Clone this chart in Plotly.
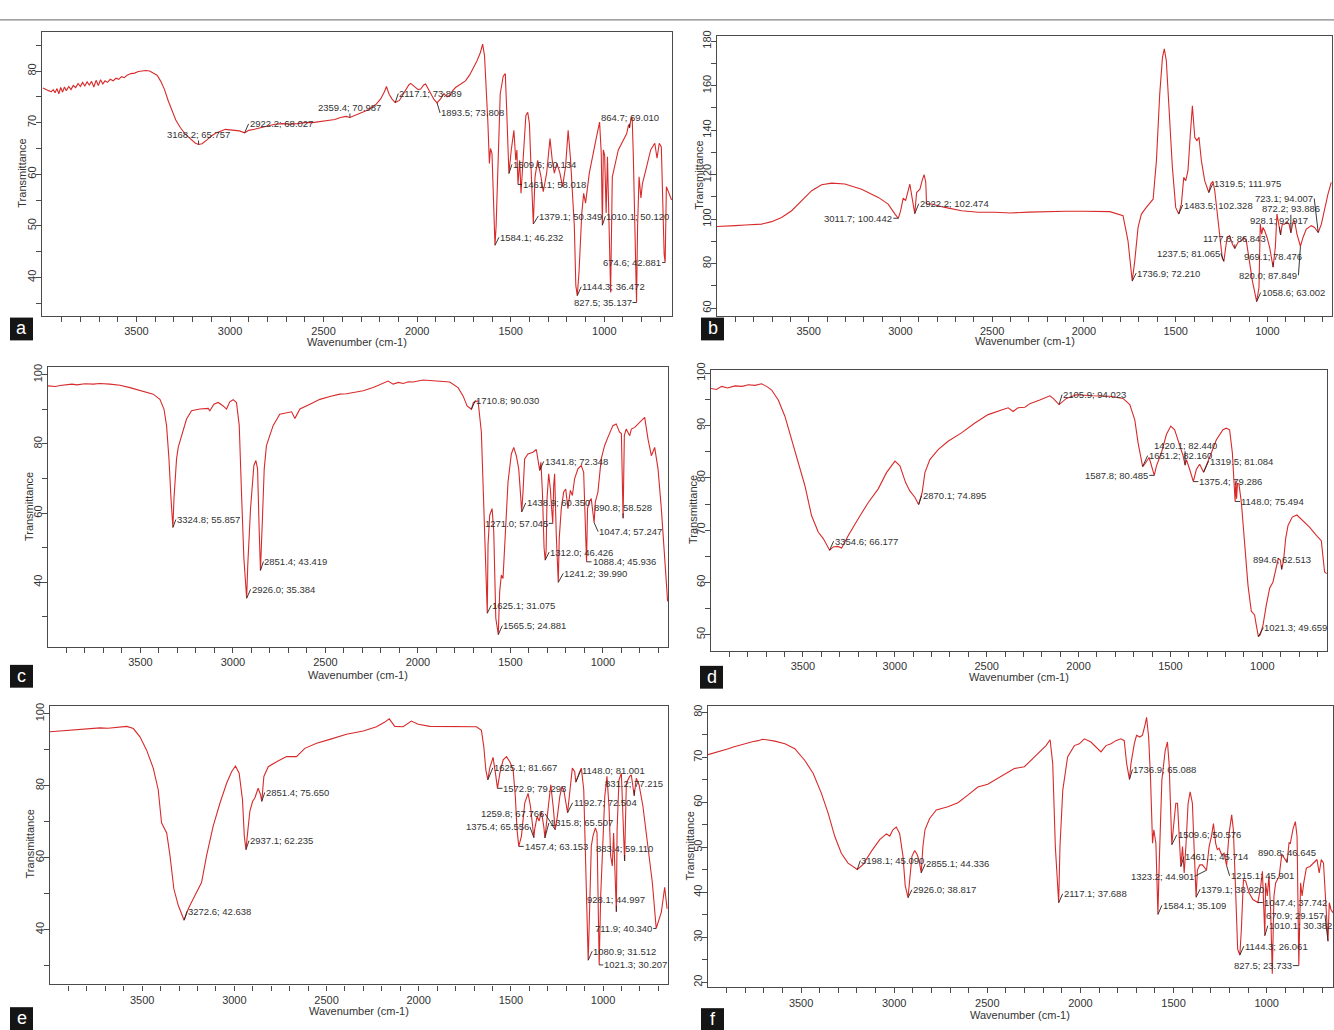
import plotly.graph_objects as go

# ---------------- spectra (wavenumber cm-1, transmittance) ----------------
A_WN = [4000, 3985, 3970, 3955, 3945, 3935, 3925, 3915, 3905, 3895, 3885, 3875, 3862, 3850, 3838,
        3825, 3812, 3800, 3788, 3776, 3764, 3752, 3740, 3728, 3716, 3704, 3692, 3680, 3668, 3655,
        3640, 3625, 3610, 3595, 3580, 3565, 3550, 3530, 3510, 3490, 3470, 3450, 3430, 3410, 3390,
        3370, 3350, 3330, 3310, 3290, 3265, 3240, 3210, 3185, 3150, 3125, 3100, 3075, 3050, 3025,
        3000, 2975, 2950, 2900, 2870, 2840, 2800, 2760, 2720, 2680, 2640, 2600, 2560, 2520, 2480,
        2440, 2410, 2380, 2340, 2300, 2260, 2221, 2195, 2175, 2164, 2150, 2135, 2095, 2070, 2045,
        2034, 2015, 1995, 1981, 1965, 1955, 1940, 1928, 1910, 1875, 1857, 1840, 1825, 1810, 1795,
        1770, 1742, 1720, 1698, 1680, 1662, 1650, 1640, 1630, 1622, 1614, 1608, 1600, 1590, 1578,
        1569, 1556, 1540, 1529, 1522, 1497, 1483, 1473, 1467, 1452, 1445, 1432, 1419, 1409, 1400,
        1390, 1370, 1356, 1338, 1326, 1308, 1290, 1278, 1267, 1253, 1237, 1223, 1207, 1193, 1180,
        1160, 1152, 1135, 1120, 1110, 1100, 1080, 1045, 1025, 1016, 1005, 998, 990, 983, 966,
        957, 925, 880, 870, 858, 851, 845, 835, 822, 814, 804, 796, 778, 752, 730,
        718, 706, 695, 680, 668, 655, 640]
A_T = [76.7, 76.4, 76.2, 76.0, 76.4, 75.8, 76.6, 75.6, 76.8, 75.9, 76.9, 76.2, 77.0, 76.4, 77.2,
       76.8, 77.6, 77.0, 77.8, 77.1, 77.9, 77.3, 78.0, 76.9, 78.2, 77.2, 78.3, 77.5, 78.1, 77.8,
       78.4, 78.1, 78.6, 78.4, 78.9, 78.7, 79.2, 79.5, 79.6, 79.9, 80.0, 80.1, 80.0, 79.6, 79.2,
       78.0, 76.4, 74.2, 72.2, 70.5, 69.0, 67.8, 66.8, 66.0, 65.9, 66.6, 67.4, 68.0, 68.4, 68.7,
       68.6, 68.5, 68.4, 68.5, 68.7, 69.0, 69.4, 69.7, 69.8, 69.7, 69.8, 70.0, 70.0, 70.2, 70.3,
       70.6, 71.0, 71.2, 71.3, 71.8, 72.5, 73.5, 74.6, 76.0, 77.0, 75.5, 74.6, 74.3, 75.8, 77.3,
       77.6, 77.0, 76.4, 76.5, 77.3, 77.5, 76.5, 75.6, 74.5, 74.6, 75.6, 75.0, 75.3, 76.2, 76.8,
       77.4, 78.1, 79.2, 80.7, 82.0, 83.6, 85.2, 83.0, 77.0, 70.0, 62.1, 65.0, 64.0, 50.0, 50.0,
       61.4, 75.6, 79.0, 79.5, 73.0, 64.7, 68.5, 62.7, 64.7, 62.7, 56.3, 64.0, 71.4, 72.0, 69.8,
       60.0, 59.5, 62.7, 59.5, 56.6, 60.2, 66.9, 62.7, 60.2, 62.1, 60.2, 57.6, 61.4, 68.5, 62.7,
       49.9, 38.4, 41.0, 52.5, 56.3, 54.4, 60.2, 66.6, 70.1, 64.0, 64.7, 63.7, 52.5, 63.4, 37.1,
       59.5, 64.7, 67.9, 69.6, 70.6, 71.1, 64.0, 48.0, 49.9, 59.5, 55.4, 58.2, 60.8, 64.7, 66.0,
       63.1, 66.0, 65.3, 44.5, 57.6, 56.3, 55.0]

B_WN = [4000, 3944, 3900, 3847, 3800, 3757, 3702, 3648, 3593, 3539, 3484, 3430, 3375, 3303, 3212,
        3121, 3067, 3030, 3000, 2985, 2972, 2949, 2940, 2912, 2894, 2882, 2871, 2862, 2858, 2831,
        2758, 2667, 2577, 2486, 2400, 2300, 2200, 2100, 2000, 1900, 1859, 1787, 1760, 1723, 1705,
        1687, 1660, 1623, 1605, 1587, 1572, 1562, 1551, 1536, 1518, 1500, 1469, 1456, 1445, 1433,
        1420, 1409, 1396, 1384, 1373, 1360, 1342, 1309, 1297, 1287, 1269, 1256, 1246, 1233, 1220,
        1206, 1191, 1160, 1142, 1129, 1115, 1100, 1082, 1046, 1039, 1031, 1024, 1015, 1002, 988,
        957, 948, 937, 919, 906, 893, 882, 861, 852, 839, 806, 788, 761, 743, 706,
        688, 670, 652]
B_T = [96.7, 96.8, 97.1, 97.4, 97.6, 97.8, 98.9, 100.8, 103.8, 108.3, 112.8, 115.5, 116.2, 115.8, 113.5,
       109.8, 106.8, 102.3, 103.5, 109.5, 108.3, 115.8, 111.3, 112.0, 113.5, 117.3, 120.0, 116.5, 106.8, 106.8,
       105.3, 103.8, 103.1, 103.1, 102.8, 103.2, 103.5, 103.6, 103.6, 103.5, 103.4, 101.6, 90.3, 81.3, 96.3,
       102.3, 105.3, 109.0, 126.3, 156.2, 172.7, 176.5, 171.2, 148.8, 123.3, 105.3, 106.8, 118.8, 117.3, 121.8,
       138.3, 151.0, 136.8, 135.3, 136.8, 126.3, 117.3, 115.8, 117.0, 112.8, 99.3, 87.3, 82.5, 84.3, 91.8,
       92.6, 88.8, 89.6, 90.3, 91.8, 90.3, 82.8, 72.3, 69.3, 97.8, 93.3, 96.3, 94.8, 91.8, 87.3,
       87.3, 102.3, 96.3, 97.8, 97.8, 98.6, 97.8, 98.6, 99.3, 93.3, 91.8, 95.6, 97.1, 96.3, 97.8,
       105.3, 111.3, 116.5]

C_WN = [4000, 3960, 3935, 3900, 3870, 3845, 3800, 3755, 3720, 3665, 3611, 3557, 3485, 3431, 3395,
        3373, 3359, 3346, 3335, 3319, 3305, 3296, 3278, 3251, 3224, 3179, 3134, 3125, 3103, 3080,
        3053, 3035, 3017, 2999, 2981, 2966, 2954, 2941, 2920, 2905, 2887, 2876, 2867, 2858, 2842,
        2831, 2819, 2783, 2747, 2710, 2683, 2665, 2638, 2584, 2530, 2476, 2422, 2386, 2296, 2242,
        2188, 2161, 2134, 2105, 2080, 2050, 2026, 1972, 1900, 1828, 1783, 1756, 1734, 1722, 1700,
        1675, 1657, 1644, 1621, 1612, 1599, 1590, 1579, 1558, 1549, 1540, 1527, 1513, 1495, 1482,
        1468, 1455, 1446, 1432, 1423, 1405, 1378, 1360, 1352, 1335, 1327, 1318, 1307, 1302, 1293,
        1284, 1278, 1266, 1261, 1252, 1236, 1225, 1212, 1201, 1189, 1176, 1165, 1153, 1135, 1117,
        1104, 1094, 1083, 1075, 1063, 1041, 1027, 1009, 991, 973, 946, 928, 910, 900, 884,
        874, 855, 846, 828, 810, 792, 774, 756, 738, 720, 702, 684, 666, 650]
C_T = [96.8, 96.6, 96.9, 97.0, 97.3, 97.1, 97.4, 97.3, 97.5, 97.3, 97.0, 96.3, 95.2, 94.4, 92.9,
       90.1, 85.3, 75.7, 64.2, 64.2, 75.7, 79.0, 82.4, 87.2, 89.6, 90.1, 90.3, 89.6, 91.5, 92.0,
       91.0, 90.1, 92.2, 92.8, 92.0, 85.3, 66.1, 46.9, 45.0, 61.3, 73.8, 75.2, 72.8, 54.6, 56.5,
       72.8, 79.5, 85.3, 88.6, 89.1, 89.3, 87.4, 90.1, 91.5, 92.9, 93.7, 94.4, 94.5, 95.4, 96.3,
       97.7, 98.2, 97.3, 97.8, 97.5, 98.0, 97.9, 98.5, 98.2, 97.9, 96.3, 93.9, 91.0, 90.4, 92.0,
       92.5, 83.4, 61.3, 50.7, 59.4, 61.3, 54.6, 29.6, 37.3, 42.1, 41.1, 56.5, 69.0, 77.1, 79.0,
       76.6, 72.8, 66.0, 66.0, 75.7, 77.1, 77.6, 78.4, 76.0, 74.7, 66.1, 50.0, 49.0, 64.2, 71.4,
       67.0, 62.0, 68.0, 71.4, 53.6, 52.7, 61.3, 66.1, 67.0, 61.3, 66.6, 65.1, 69.9, 72.8, 73.8,
       71.8, 55.0, 61.3, 63.2, 64.2, 63.2, 66.1, 75.7, 79.5, 81.9, 85.3, 85.8, 83.4, 83.0, 82.5,
       84.3, 82.4, 84.3, 84.8, 85.8, 86.7, 87.7, 81.4, 76.6, 79.0, 72.8, 61.3, 46.9, 34.5]

D_WN = [4000, 3970, 3942, 3910, 3869, 3830, 3797, 3760, 3725, 3697, 3670, 3634, 3598, 3561, 3525,
        3489, 3453, 3416, 3389, 3335, 3311, 3289, 3253, 3199, 3144, 3090, 3045, 2999, 2972, 2941,
        2918, 2891, 2851, 2836, 2809, 2764, 2710, 2637, 2564, 2492, 2419, 2383, 2356, 2329, 2292,
        2265, 2211, 2156, 2138, 2066, 2012, 1921, 1830, 1758, 1721, 1694, 1676, 1640, 1616, 1604,
        1576, 1549, 1522, 1498, 1477, 1450, 1431, 1413, 1395, 1381, 1359, 1341, 1305, 1277, 1250,
        1214, 1196, 1178, 1163, 1154, 1144, 1140, 1135, 1127, 1114, 1096, 1078, 1060, 1042, 1033,
        1011, 996, 978, 960, 942, 924, 913, 902, 884, 873, 860, 837, 812, 779, 743,
        706, 679, 661, 650]
D_T = [97.1, 96.9, 97.5, 97.2, 97.6, 97.5, 97.8, 97.7, 98.0, 97.5, 96.8, 94.9, 91.8, 87.3, 82.9,
       78.5, 72.8, 69.6, 68.4, 66.8, 66.9, 66.6, 69.0, 72.2, 75.3, 77.9, 81.0, 83.2, 82.3, 79.1,
       77.5, 76.3, 77.2, 81.0, 83.5, 85.4, 87.0, 88.6, 90.5, 92.1, 93.0, 93.4, 92.7, 93.4, 93.5,
       94.2, 94.9, 95.7, 95.2, 95.2, 95.9, 95.7, 95.6, 95.2, 94.0, 91.1, 86.7, 82.6, 83.9, 82.3,
       82.3, 84.8, 88.3, 89.9, 89.2, 86.4, 84.2, 83.5, 81.6, 79.8, 81.6, 82.6, 82.3, 84.8, 87.3,
       89.2, 89.5, 89.2, 84.8, 79.1, 79.5, 76.0, 79.0, 78.8, 75.3, 67.7, 59.5, 54.5, 53.8, 51.9,
       50.0, 51.9, 55.7, 58.9, 60.1, 62.7, 64.6, 64.3, 64.3, 68.4, 70.9, 72.5, 72.9, 71.8, 70.6,
       69.0, 68.0, 62.0, 61.7]

E_WN = [4000, 3955, 3910, 3865, 3819, 3775, 3729, 3685, 3639, 3610, 3584, 3548, 3512, 3476, 3440,
        3413, 3395, 3367, 3349, 3328, 3304, 3250, 3214, 3178, 3151, 3115, 3078, 3042, 3015, 2994,
        2974, 2956, 2946, 2930, 2916, 2901, 2889, 2871, 2858, 2840, 2816, 2771, 2717, 2663, 2618,
        2554, 2482, 2428, 2392, 2301, 2229, 2184, 2160, 2130, 2085, 2040, 2003, 1940, 1850, 1759,
        1687, 1660, 1647, 1636, 1615, 1597, 1584, 1560, 1542, 1524, 1506, 1488, 1476, 1467, 1443,
        1425, 1407, 1394, 1371, 1358, 1347, 1335, 1322, 1299, 1284, 1271, 1248, 1235, 1223, 1212,
        1181, 1167, 1154, 1130, 1118, 1105, 1094, 1076, 1064, 1055, 1042, 1033, 1013, 1004, 991,
        979, 968, 959, 950, 943, 924, 914, 901, 874, 856, 847, 820, 805, 784, 757,
        733, 702, 684, 666, 653]
E_T = [95.0, 95.2, 95.4, 95.5, 95.7, 95.8, 96.1, 96.0, 96.2, 96.3, 96.5, 95.9, 93.6, 89.9, 84.9,
       78.9, 69.7, 66.9, 60.5, 51.3, 46.7, 45.8, 49.5, 53.1, 60.5, 68.8, 75.2, 80.7, 83.9, 85.5,
       83.5, 76.1, 66.0, 66.0, 72.9, 75.7, 76.6, 79.3, 77.5, 82.6, 85.3, 86.7, 88.1, 88.1, 90.4,
       91.8, 92.9, 93.8, 94.3, 95.2, 96.4, 97.7, 98.6, 96.5, 96.4, 98.0, 97.1, 96.5, 96.5, 96.5,
       96.4, 95.4, 90.8, 84.4, 84.9, 87.9, 83.5, 83.5, 87.2, 88.1, 86.7, 84.4, 77.0, 67.9, 66.0,
       75.2, 77.9, 74.3, 67.9, 71.5, 70.2, 72.9, 68.8, 74.3, 80.3, 74.3, 71.5, 77.0, 79.8, 78.4,
       77.9, 84.9, 83.9, 83.5, 84.9, 78.9, 58.6, 40.3, 63.2, 66.0, 68.3, 66.9, 49.5, 63.2, 77.0,
       82.6, 74.3, 60.5, 57.7, 66.9, 67.9, 81.6, 83.5, 80.7, 82.6, 83.0, 82.1, 80.3, 74.3, 63.2,
       53.1, 42.1, 44.9, 51.8, 45.8]

F_WN = [4000, 3972, 3945, 3918, 3891, 3864, 3837, 3810, 3784, 3757, 3730, 3708, 3686, 3664, 3641,
        3587, 3534, 3480, 3435, 3391, 3355, 3319, 3284, 3248, 3167, 3123, 3078, 3042, 3024, 3007,
        2989, 2971, 2953, 2941, 2915, 2905, 2890, 2876, 2866, 2846, 2835, 2810, 2774, 2712, 2658,
        2605, 2551, 2498, 2444, 2390, 2355, 2301, 2274, 2221, 2185, 2163, 2149, 2135, 2110, 2095,
        2069, 2033, 2006, 1979, 1944, 1908, 1890, 1863, 1836, 1810, 1783, 1765, 1752, 1729, 1711,
        1699, 1681, 1667, 1652, 1645, 1634, 1624, 1613, 1606, 1595, 1577, 1563, 1545, 1533, 1524,
        1502, 1488, 1479, 1470, 1452, 1443, 1434, 1422, 1411, 1399, 1390, 1372, 1359, 1345, 1309,
        1297, 1286, 1274, 1265, 1256, 1241, 1229, 1202, 1188, 1179, 1166, 1156, 1136, 1125, 1113,
        1095, 1074, 1032, 1023, 1006, 997, 988, 979, 970, 961, 952, 933, 919, 905, 880,
        873, 858, 846, 837, 818, 810, 801, 787, 766, 748, 730, 718, 707, 695, 664,
        655, 645]
F_T = [70.6, 70.9, 71.2, 71.5, 71.9, 72.3, 72.6, 73.0, 73.2, 73.5, 73.7, 74.0, 73.9, 73.8, 73.6,
       73.0, 71.9, 69.3, 66.4, 62.0, 57.6, 52.4, 48.7, 46.5, 46.2, 49.1, 51.7, 53.0, 52.5, 53.9,
       54.5, 53.1, 48.0, 41.5, 44.0, 48.0, 49.3, 48.3, 47.0, 50.2, 53.9, 56.4, 58.3, 59.0, 59.9,
       61.6, 63.4, 64.0, 65.3, 66.5, 67.5, 67.9, 69.0, 71.2, 72.6, 73.9, 68.6, 50.2, 50.2, 62.7,
       70.1, 72.6, 73.0, 74.1, 73.4, 71.9, 71.2, 72.6, 73.0, 73.7, 74.1, 73.7, 68.6, 68.6, 73.0,
       74.9, 74.5, 74.9, 77.4, 78.9, 74.5, 65.6, 50.9, 53.9, 50.9, 46.5, 64.9, 71.5, 73.4, 68.6,
       53.9, 59.8, 59.8, 52.4, 50.2, 44.3, 50.2, 59.8, 62.3, 59.8, 50.2, 45.0, 46.1, 46.1, 50.2,
       52.4, 55.3, 50.9, 49.5, 49.8, 48.3, 48.7, 53.1, 57.2, 53.9, 39.2, 27.4, 31.8, 42.8, 42.5,
       39.9, 38.4, 41.4, 44.7, 42.1, 39.2, 43.6, 36.2, 21.9, 39.2, 42.1, 43.6, 48.5, 47.5, 51.0,
       50.9, 54.2, 55.7, 52.4, 42.1, 39.2, 42.1, 45.4, 45.8, 46.5, 47.3, 44.3, 47.3, 46.5, 37.7,
       36.2, 35.5]

# ---------------- picked peaks (wavenumber, transmittance) ----------------
PEAKS_A = [(3168.2, 65.757), (2922.2, 68.027), (2359.4, 70.987), (2117.1, 73.889), (1893.5, 73.808),
           (1584.1, 46.232), (1509.6, 60.134), (1461.1, 58.018), (1379.1, 50.349), (1144.3, 36.472),
           (1010.1, 50.120), (864.7, 69.010), (827.5, 35.137), (674.6, 42.881)]
PEAKS_B = [(3011.7, 100.442), (2922.2, 102.474), (1736.9, 72.210), (1483.5, 102.328), (1319.5, 111.975),
           (1237.5, 81.065), (1177.8, 86.843), (1058.6, 63.002), (969.1, 78.476), (928.1, 92.917),
           (872.2, 93.886), (820.0, 87.849), (723.1, 94.007)]
PEAKS_C = [(3324.8, 55.857), (2926.0, 35.384), (2851.4, 43.419), (1710.8, 90.030), (1625.1, 31.075),
           (1565.5, 24.881), (1438.9, 60.350), (1341.8, 72.348), (1312.0, 46.426), (1271.0, 57.045),
           (1241.2, 39.990), (1088.4, 45.936), (1047.4, 57.247), (890.8, 58.528)]
PEAKS_D = [(3354.6, 66.177), (2870.1, 74.895), (2105.9, 94.023), (1651.2, 82.160), (1587.8, 80.485),
           (1420.1, 82.440), (1375.4, 79.286), (1319.5, 81.084), (1148.0, 75.494), (1021.3, 49.659),
           (894.6, 62.513)]
PEAKS_E = [(3272.6, 42.638), (2937.1, 62.235), (2851.4, 75.650), (1625.1, 81.667), (1572.9, 79.293),
           (1457.4, 63.153), (1375.4, 65.556), (1315.8, 65.507), (1259.8, 67.766), (1192.7, 72.504),
           (1148.0, 81.001), (1080.9, 31.512), (1021.3, 30.207), (928.1, 44.997), (883.4, 59.110),
           (831.2, 77.215), (711.9, 40.340)]
PEAKS_F = [(3198.1, 45.090), (2926.0, 38.817), (2855.1, 44.336), (2117.1, 37.688), (1736.9, 65.088),
           (1584.1, 35.109), (1509.6, 50.576), (1461.1, 45.714), (1379.1, 38.920), (1323.2, 44.901),
           (1215.1, 45.901), (1144.3, 26.061), (1047.4, 37.742), (1010.1, 30.382), (890.8, 46.645),
           (827.5, 23.733), (670.9, 29.157)]

X_TICKS = [3500, 3000, 2500, 2000, 1500, 1000]
X_MINOR = [v for v in range(3900, 600, -100) if v % 500]

# ---------------- layout of the six panels (pixels) ----------------
W, H = 1334, 1030
FONT = "Liberation Sans, Arial, sans-serif"
RED = "#d82a2a"
INK = "#333333"
FRAME = "#4a4a4a"

PANELS = [
    dict(key="a", wn=A_WN, t=A_T, peaks=PEAKS_A, box=(42, 24, 672, 310), xr=(4005, 638), yr=(32.6, 87.6),
         ymaj=[40, 50, 60, 70, 80], ymin=[35, 45, 55, 65, 75, 85],
         xt_y=337, yt=(22, 167), letter=(10, 312),
         offs=[(0, -10, "center"), (4, -9, "left"), (0, -10, "center"), (3, -9, "left"), (3, 10, "left"),
               (4, -8, "left"), (3, -9, "left"), (4, 0, "left"), (5, -8, "left"), (4, -9, "left"),
               (3, -9, "left"), (0, -10, "center"), (-4, 0, "right"), (-3, 0, "right")]),
    dict(key="b", wn=B_WN, t=B_T, peaks=PEAKS_B, box=(717, 28, 1332, 310), xr=(4000, 648), yr=(56.7, 182.4),
         ymaj=[60, 80, 100, 120, 140, 160, 180], ymin=[70, 90, 110, 130, 150, 170],
         xt_y=336, yt=(699, 169), letter=(701, 312),
         offs=[(-5, 0, "right"), (4, -10, "left"), (4, -8, "left"), (4, -9, "left"), (4, -9, "left"),
               (-3, -8, "right"), (0, -10, "center"), (4, -9, "left"), (0, -11, "center"), (-2, -14, "center"),
               (0, -24, "center"), (-2, 29, "right"), (-4, -34, "right")]),
    dict(key="c", wn=C_WN, t=C_T, peaks=PEAKS_C, box=(48, 362, 668, 644), xr=(4000, 648), yr=(21.3, 102.2),
         ymaj=[40, 60, 80, 100], ymin=[30, 50, 70, 90],
         xt_y=672, yt=(29, 503), letter=(10, 662),
         offs=[(3, -8, "left"), (4, -9, "left"), (3, -9, "left"), (4, -9, "left"), (4, -8, "left"),
               (4, -9, "left"), (4, -9, "left"), (4, -9, "left"), (4, -8, "left"), (-4, 0, "right"),
               (5, -9, "left"), (5, 0, "left"), (4, 9, "left"), (0, -11, "center")]),
    dict(key="d", wn=D_WN, t=D_T, peaks=PEAKS_D, box=(711, 365, 1327, 648), xr=(4000, 648), yr=(46.9, 100.6),
         ymaj=[50, 60, 70, 80, 90, 100], ymin=[55, 65, 75, 85, 95],
         xt_y=674, yt=(693, 506), letter=(700, 663),
         offs=[(4, -9, "left"), (3, -9, "left"), (3, -10, "left"), (5, -11, "left"), (-5, 0, "right"),
               (0, -20, "center"), (5, 0, "left"), (5, -11, "left"), (5, 0, "left"), (5, -9, "left"),
               (0, -10, "center")]),
    dict(key="e", wn=E_WN, t=E_T, peaks=PEAKS_E, box=(50, 703, 668, 984), xr=(4000, 648), yr=(24.8, 102.3),
         ymaj=[40, 60, 80, 100], ymin=[30, 50, 70, 90],
         xt_y=1011, yt=(30, 843), letter=(10, 1007),
         offs=[(3, -9, "left"), (3, -9, "left"), (3, -9, "left"), (5, -12, "left"), (5, 0, "left"),
               (5, 0, "left"), (-4, -11, "right"), (4, -15, "left"), (-10, -16, "right"), (5, -10, "left"),
               (5, -12, "left"), (4, -9, "left"), (4, 0, "left"), (0, -12, "center"), (0, -12, "center"),
               (0, -12, "center"), (-3, 0, "right")]),
    dict(key="f", wn=F_WN, t=F_T, peaks=PEAKS_F, box=(708, 703, 1333, 987), xr=(4000, 644), yr=(18.9, 81.5),
         ymaj=[20, 30, 40, 50, 60, 70, 80], ymin=[25, 35, 45, 55, 65, 75],
         xt_y=1015, yt=(690, 845), letter=(701, 1008),
         offs=[(3, -9, "left"), (4, -8, "left"), (4, -9, "left"), (4, -9, "left"), (3, -10, "left"),
               (4, -9, "left"), (5, -10, "left"), (3, -10, "left"), (4, -8, "left"), (-12, 6, "right"),
               (3, 10, "left"), (4, -9, "left"), (5, 0, "left"), (3, -10, "left"), (0, -10, "center"),
               (-6, 0, "right"), (-3, -26, "right")]),
]


def px_x(px):
    return px / W


def px_y(py):
    return 1 - py / H


fig = go.Figure()
annotations = []
shapes = []
layout = {}

for i, p in enumerate(PANELS, start=1):
    sfx = "" if i == 1 else str(i)
    xa, ya = "x" + sfx, "y" + sfx
    # spectrum passes through every picked peak
    pts = sorted(list(zip(p["wn"], p["t"])) + list(p["peaks"]), key=lambda q: -q[0])
    fig.add_trace(go.Scatter(x=[q[0] for q in pts], y=[q[1] for q in pts], mode="lines",
                             line=dict(color=RED, width=1.1), xaxis=xa, yaxis=ya,
                             hoverinfo="skip", showlegend=False))
    l, t, r, b = p["box"]
    common = dict(showline=True, mirror=True, linecolor=FRAME, linewidth=1.3, showgrid=False,
                  zeroline=False, ticks="outside", ticklen=5, tickwidth=1, tickcolor=FRAME,
                  tickfont=dict(family=FONT, size=11, color=INK))
    layout["xaxis" + sfx] = dict(common, domain=[px_x(l), px_x(r)], range=list(p["xr"]), anchor=ya,
                                 tickvals=X_TICKS,
                                 minor=dict(tickvals=X_MINOR, ticks="outside", ticklen=5, tickcolor=FRAME))
    layout["yaxis" + sfx] = dict(common, domain=[px_y(b), px_y(t)], range=list(p["yr"]), anchor=xa,
                                 tickvals=p["ymaj"], tickangle=-90, ticklabelstandoff=-5,
                                 minor=dict(tickvals=p["ymin"], ticks="outside", ticklen=5, tickcolor=FRAME))

    # peak labels with leader lines
    for (w, tv), (dx, dy, anc) in zip(p["peaks"], p["offs"]):
        annotations.append(dict(x=w, y=tv, xref=xa, yref=ya, text=f"{w:.1f}; {tv:.3f}",
                                showarrow=True, arrowhead=0, arrowwidth=0.9, arrowcolor="#222222",
                                ax=dx, ay=dy, xanchor=anc, yanchor="middle", borderpad=0,
                                font=dict(family=FONT, size=9.5, color=INK)))

    # axis titles
    annotations.append(dict(x=px_x((l + r) / 2), y=px_y(p["xt_y"]), xref="paper", yref="paper",
                            text="Wavenumber (cm-1)", showarrow=False, xanchor="center", yanchor="middle",
                            font=dict(family=FONT, size=11, color=INK)))
    annotations.append(dict(x=px_x(p["yt"][0]), y=px_y(p["yt"][1]), xref="paper", yref="paper",
                            text="Transmittance", showarrow=False, textangle=-90,
                            xanchor="center", yanchor="middle",
                            font=dict(family=FONT, size=11, color=INK)))

    # panel letter in a black box
    lx, ly = p["letter"]
    shapes.append(dict(type="rect", xref="paper", yref="paper", x0=px_x(lx), x1=px_x(lx + 23),
                       y0=px_y(ly + 23), y1=px_y(ly), fillcolor="#151515", line=dict(width=0)))
    annotations.append(dict(x=px_x(lx + 11.5), y=px_y(ly + 11), xref="paper", yref="paper",
                            text=p["key"], showarrow=False, xanchor="center", yanchor="middle",
                            font=dict(family=FONT, size=18, color="white")))

# thin rule across the top of the figure
shapes.append(dict(type="line", xref="paper", yref="paper", x0=0, x1=1, y0=px_y(12), y1=px_y(12),
                   line=dict(color="#666666", width=1)))

fig.update_layout(width=W, height=H, margin=dict(l=0, r=0, t=0, b=0),
                  paper_bgcolor="white", plot_bgcolor="white",
                  annotations=annotations, shapes=shapes, **layout)

fig.write_html("out.html")
